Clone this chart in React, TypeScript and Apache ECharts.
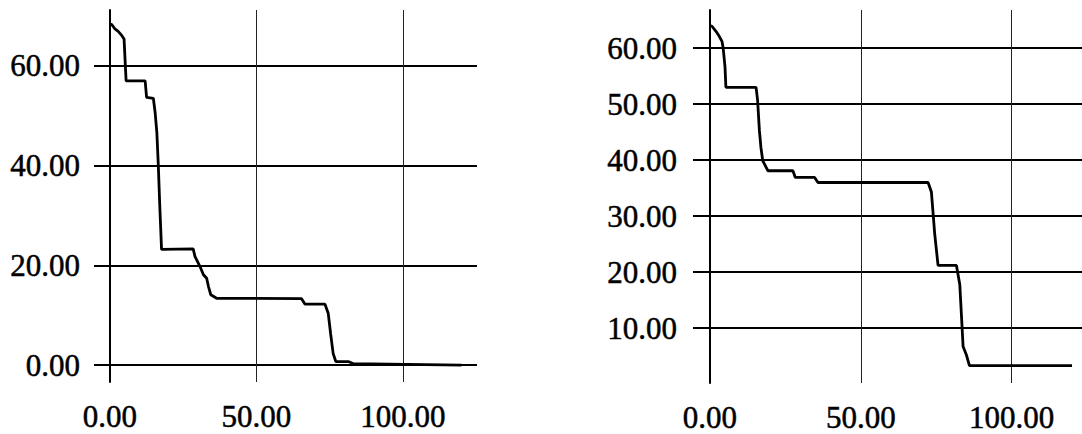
import React, { useEffect, useRef } from "react";
import * as echarts from "echarts";

// Left chart data
const leftX = [0, 0.6, 1.7, 2.8, 4, 4.8, 5.5, 12, 12.5, 14.8, 15.4, 16, 16.5, 17, 17.6, 28.4, 29, 30.7, 31.9, 33, 33.6, 34.4, 36.4, 65.4, 66.6, 73.4, 74.5, 75.3, 76.2, 77.1, 81.3, 83, 120];
const leftY = [68.3, 68.3, 67.4, 66.9, 66.1, 65.4, 57.0, 57.0, 53.7, 53.5, 50.7, 46.6, 40, 31.9, 23.2, 23.3, 21.8, 19.8, 18.1, 17.4, 15.8, 14.1, 13.4, 13.3, 12.2, 12.2, 10.4, 6.4, 2.3, 0.7, 0.7, 0.3, 0];

// Right chart data
const rightX = [0, 0.7, 2, 3.1, 4, 4.4, 5, 5.3, 15.3, 15.8, 16.4, 16.9, 17.5, 19.2, 27.5, 28.3, 34.7, 35.8, 72.3, 73.4, 74.5, 75.6, 81.7, 82.8, 83.4, 83.9, 85, 86, 120];
const rightY = [64.0, 63.9, 63, 62.1, 61.2, 60, 56.7, 53, 53, 50.7, 45.3, 42.3, 39.9, 38.1, 38.1, 36.9, 36.9, 36, 36, 34.3, 26.8, 21.2, 21.2, 17.8, 11.8, 6.7, 5.2, 3.3, 3.3];

// Axis ranges and tick steps
const leftXRange = [-5.46, 125.3];
const leftYRange = [-3.4, 71.2];
const rightXRange = [-5.6, 123.3];
const rightYRange = [0.2, 66.8];
const xStep = 50;
const leftYStep = 20;
const rightYStep = 10;

const FONT = "Liberation Serif";
const fmt = (v: number) => v.toFixed(2);

const textBase = {
  fontFamily: FONT,
  fontSize: 31,
  color: "#000",
  textBorderColor: "#000",
  textBorderWidth: 0.5,
};

function xAxisOpt(gridIndex: number, range: number[]) {
  return {
    type: "value",
    gridIndex,
    min: range[0],
    max: range[1],
    minInterval: xStep,
    maxInterval: xStep,
    axisLine: { show: false, onZero: false },
    axisTick: { show: false },
    axisLabel: {
      ...textBase,
      showMinLabel: false,
      showMaxLabel: false,
      formatter: fmt,
      lineHeight: 31,
      margin: 19,
    },
    splitLine: {
      show: true,
      showMinLine: false,
      showMaxLine: false,
      lineStyle: { color: "#222", width: 1 },
    },
  };
}

function yAxisOpt(gridIndex: number, range: number[], step: number, margin: number) {
  return {
    type: "value",
    gridIndex,
    min: range[0],
    max: range[1],
    minInterval: step,
    maxInterval: step,
    axisLine: { show: true, onZero: true, lineStyle: { color: "#000", width: 2 } },
    axisTick: { show: false },
    axisLabel: {
      ...textBase,
      showMinLabel: false,
      showMaxLabel: false,
      formatter: fmt,
      margin,
    },
    splitLine: {
      show: true,
      showMinLine: false,
      showMaxLine: false,
      lineStyle: { color: "#000", width: 2 },
    },
  };
}

export default function App() {
  const ref = useRef<HTMLDivElement>(null);
  useEffect(() => {
    if (!ref.current) return;
    const chart = echarts.init(ref.current, undefined, { renderer: "svg" });
    chart.setOption({
      animation: false,
      backgroundColor: "#fff",
      grid: [
        { left: 94, width: 383, top: 10, height: 372, containLabel: false, outerBoundsMode: "none" },
        { left: 693, right: 0, top: 10, height: 373, containLabel: false, outerBoundsMode: "none" },
      ],
      xAxis: [xAxisOpt(0, leftXRange), xAxisOpt(1, rightXRange)],
      yAxis: [
        yAxisOpt(0, leftYRange, leftYStep, 14),
        yAxisOpt(1, rightYRange, rightYStep, 16),
      ],
      series: [
        {
          type: "line",
          xAxisIndex: 0,
          yAxisIndex: 0,
          data: leftX.map((x, i) => [x, leftY[i]]),
          showSymbol: false,
          lineStyle: { color: "#000", width: 2.8 },
        },
        {
          type: "line",
          xAxisIndex: 1,
          yAxisIndex: 1,
          data: rightX.map((x, i) => [x, rightY[i]]),
          showSymbol: false,
          lineStyle: { color: "#000", width: 2.8 },
        },
      ],
    });
    return () => chart.dispose();
  }, []);
  return (
    <div
      ref={ref}
      style={{ position: "absolute", left: 0, top: 0, width: 1082, height: 434, background: "#fff" }}
    />
  );
}
